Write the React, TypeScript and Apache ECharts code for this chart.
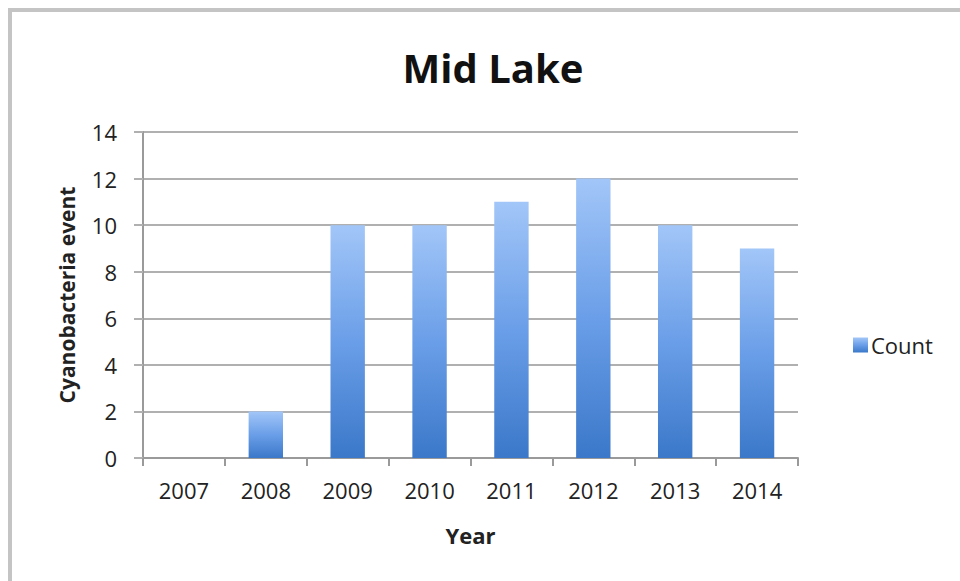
import React, { useEffect, useRef } from "react";
import * as echarts from "echarts";

const years = ["2007", "2008", "2009", "2010", "2011", "2012", "2013", "2014"];
const counts = [0, 2, 10, 10, 11, 12, 10, 9];
const seriesName = "Count";
const titleText = "Mid Lake";
const xAxisName = "Year";
const yAxisName = "Cyanobacteria event";

const FONT = "'Open Sans', 'Noto Sans', sans-serif";

export default function App() {
  const ref = useRef<HTMLDivElement>(null);

  useEffect(() => {
    if (!ref.current) return;
    const chart = echarts.init(ref.current, undefined, { renderer: "svg" });

    const barGradient = new echarts.graphic.LinearGradient(0, 0, 0, 1, [
      { offset: 0, color: "#a2c6f8" },
      { offset: 0.5, color: "#6a9ee8" },
      { offset: 1, color: "#3b78c9" },
    ]);

    chart.setOption({
      animation: false,
      backgroundColor: "#ffffff",
      textStyle: { fontFamily: FONT },
      title: {
        text: titleText,
        left: 488,
        top: 42,
        textAlign: "center",
        textStyle: { fontFamily: FONT, fontSize: 40, fontWeight: "bold", color: "#111" },
      },
      legend: {
        data: [seriesName],
        left: 848,
        top: 329,
        itemWidth: 15,
        itemHeight: 15,
        itemGap: 6,
        icon: "rect",
        textStyle: { fontFamily: FONT, fontSize: 22, color: "#222", padding: [0, 0, 0, -2] },
      },
      grid: { left: 143, right: 162, top: 132, bottom: 123, containLabel: false },
      xAxis: {
        type: "category",
        data: years,
        boundaryGap: true,
        name: xAxisName,
        nameLocation: "middle",
        nameGap: 66,
        nameTextStyle: { fontFamily: FONT, fontSize: 22, fontWeight: "bold", color: "#222" },
        axisLine: { show: true, lineStyle: { color: "#9a9a9a", width: 2 } },
        axisTick: { show: true, alignWithLabel: false, length: 8, lineStyle: { color: "#9a9a9a", width: 2 } },
        axisLabel: { fontFamily: FONT, fontSize: 22, color: "#222", margin: 21 },
        splitLine: { show: false },
      },
      yAxis: {
        type: "value",
        min: 0,
        max: 14,
        interval: 2,
        name: yAxisName,
        nameLocation: "middle",
        nameGap: 66,
        nameRotate: 90,
        nameTextStyle: { fontFamily: FONT, fontSize: 21, fontWeight: "bold", color: "#222" },
        axisLine: { show: true, lineStyle: { color: "#9a9a9a", width: 2 } },
        axisTick: { show: true, length: 9, lineStyle: { color: "#b0b0b0", width: 2 } },
        axisLabel: { fontFamily: FONT, fontSize: 22, color: "#222", margin: 26 },
        splitLine: { show: true, lineStyle: { color: "#b0b0b0", width: 2 } },
      },
      series: [
        {
          name: seriesName,
          type: "bar",
          data: counts,
          barWidth: "42%",
          itemStyle: { color: barGradient },
        },
      ],
      graphic: [
        {
          type: "line",
          shape: { x1: 8, y1: 10, x2: 960, y2: 10 },
          style: { stroke: "#c4c4c4", lineWidth: 4 },
        },
        {
          type: "line",
          shape: { x1: 10, y1: 10, x2: 10, y2: 581 },
          style: { stroke: "#c4c4c4", lineWidth: 4 },
        },
      ],
    });

    return () => chart.dispose();
  }, []);

  return (
    <div
      ref={ref}
      style={{ position: "absolute", left: 0, top: 0, width: 960, height: 581 }}
    />
  );
}
